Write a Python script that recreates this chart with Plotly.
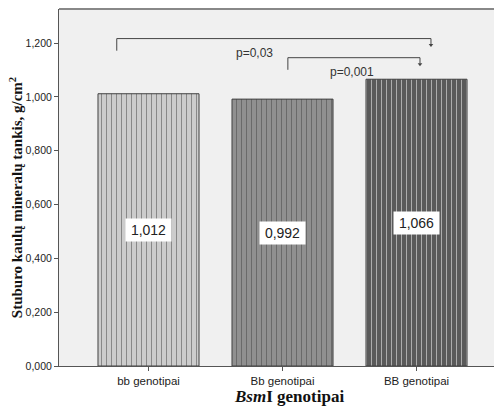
import plotly.graph_objects as go

categories = ["bb genotipai", "Bb genotipai", "BB genotipai"]
values = [1.012, 0.992, 1.066]
value_labels = ["1,012", "0,992", "1,066"]
bar_colors = ["#cccccc", "#909090", "#5a5a5a"]
pattern_colors = ["#b8b8b8", "#7c7c7c", "#4a4a4a"]
y_ticks = [0, 0.2, 0.4, 0.6, 0.8, 1.0, 1.2]
y_ticklabels = ["0,000", "0,200", "0,400", "0,600", "0,800", "1,000", "1,200"]

# comparison brackets: (from index, to index, level, label)
brackets = [
    (0, 2, 1.217, "p=0,03"),
    (1, 2, 1.146, "p=0,001"),
]

x = list(range(len(categories)))

fig = go.Figure()
fig.add_trace(go.Bar(
    x=x, y=values, width=0.754,
    marker=dict(
        color=bar_colors,
        line=dict(color="#404040", width=1),
        pattern=dict(shape="|", fgcolor=pattern_colors, size=5, solidity=0.2),
    ),
    hoverinfo="skip",
))

annotations = []
for xi, v, lab in zip(x, values, value_labels):
    annotations.append(dict(
        x=xi, y=v / 2, xref="x", yref="y", text=lab, showarrow=False,
        bgcolor="white", font=dict(family="Liberation Sans Narrow, Liberation Sans", size=14, color="#222"),
        width=41, height=18, borderpad=2,
    ))

shapes = []
left_off = [-0.237, 0.04]
right_off = [0.108, 0.026]
text_x = [0.794, 1.519]
for k, (i0, i1, lvl, lab) in enumerate(brackets):
    xa = i0 + left_off[k]
    xb = i1 + right_off[k]
    shapes.append(dict(type="line", xref="x", yref="y", x0=xa, x1=xb, y0=lvl, y1=lvl,
                       line=dict(color="#444", width=1)))
    shapes.append(dict(type="line", xref="x", yref="y", x0=xa, x1=xa, y0=lvl, y1=lvl - 0.045,
                       line=dict(color="#444", width=1)))
    shapes.append(dict(type="line", xref="x", yref="y", x0=xb, x1=xb, y0=lvl, y1=lvl - 0.022,
                       line=dict(color="#444", width=1)))
    fig.add_trace(go.Scatter(x=[xb], y=[lvl - 0.024], mode="markers",
                             marker=dict(symbol="triangle-down", size=4, color="#444"),
                             hoverinfo="skip"))
    annotations.append(dict(x=text_x[k], y=lvl - 0.055, xref="x", yref="y", text=lab,
                            showarrow=False, font=dict(family="Liberation Sans", size=12, color="#333")))

# axis titles
annotations.append(dict(xref="paper", yref="paper", x=0.52, y=0, yshift=-30, yanchor="middle",
                        text="<b><i>Bsm</i>I genotipai</b>", showarrow=False,
                        font=dict(family="Liberation Serif", size=17, color="#111")))
annotations.append(dict(xref="paper", yref="paper", x=0, xshift=-43, y=0.47, xanchor="center",
                        textangle=-90, text="<b>Stuburo kaulų mineralų tankis, g/cm<sup>2</sup></b>",
                        showarrow=False, font=dict(family="Liberation Serif", size=15, color="#111")))

shapes.append(dict(type="line", xref="paper", yref="paper", x0=0, x1=1, y0=1, y1=1,
                   line=dict(color="#888", width=2)))

fig.update_layout(
    width=494, height=399,
    margin=dict(l=51, r=0, t=1, b=41),
    paper_bgcolor="white", plot_bgcolor="#f0f0f0",
    showlegend=False,
    separators=",.",
    shapes=shapes,
    annotations=annotations,
    xaxis=dict(
        range=[-0.668, 2.638], tickvals=x, ticktext=categories, automargin=False,
        showgrid=False, zeroline=False, showline=True, linecolor="#555", linewidth=1,
        ticks="outside", ticklen=4, tickcolor="#555",
        tickfont=dict(family="Liberation Sans Narrow, Liberation Sans", size=11.5, color="#222"),
    ),
    yaxis=dict(
        range=[0, 1.327], tickvals=y_ticks, ticktext=y_ticklabels, automargin=False,
        showgrid=False, zeroline=False, showline=True, linecolor="#555", linewidth=1,
        ticks="outside", ticklen=4, tickcolor="#555",
        tickfont=dict(family="Liberation Sans Narrow, Liberation Sans", size=10.5, color="#222"),
    ),
)

fig.write_html("out.html")
